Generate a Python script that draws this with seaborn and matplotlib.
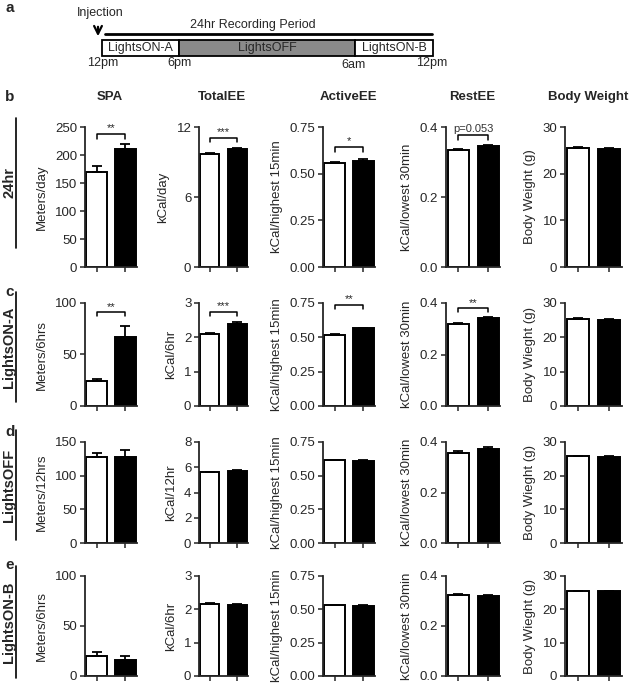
import numpy as np
import pandas as pd
import matplotlib
matplotlib.use("Agg")
import matplotlib.pyplot as plt
import seaborn as sns

# data (rows: 24hr, LightsON-A, LightsOFF, LightsON-B)
periods = ["24hr", "LightsON-A", "LightsOFF", "LightsON-B"]
panel_letters = ["b", "c", "d", "e"]
groups = ["Control", "Treated"]
metrics = ["SPA", "TotalEE", "ActiveEE", "RestEE", "Body Weight"]

spa_ctrl = [170, 24, 127, 20]
spa_ctrl_sem = [10, 2, 7, 4]
spa_trt = [210, 67, 128, 16]
spa_trt_sem = [10, 11, 10, 4]

tee_ctrl = [9.7, 2.1, 5.6, 2.15]
tee_ctrl_sem = [0.1, 0.03, 0.05, 0.04]
tee_trt = [10.1, 2.4, 5.7, 2.12]
tee_trt_sem = [0.1, 0.05, 0.05, 0.03]

aee_ctrl = [0.555, 0.52, 0.615, 0.53]
aee_ctrl_sem = [0.005, 0.006, 0.005, 0.006]
aee_trt = [0.57, 0.565, 0.61, 0.525]
aee_trt_sem = [0.006, 0.006, 0.006, 0.006]

ree_ctrl = [0.333, 0.320, 0.355, 0.323]
ree_ctrl_sem = [0.003, 0.003, 0.010, 0.004]
ree_trt = [0.345, 0.340, 0.372, 0.320]
ree_trt_sem = [0.005, 0.004, 0.010, 0.006]

bw_ctrl = [25.4, 25.3, 25.7, 25.5]
bw_ctrl_sem = [0.3, 0.2, 0.2, 0.15]
bw_trt = [25.3, 25.1, 25.5, 25.5]
bw_trt_sem = [0.2, 0.2, 0.2, 0.15]

spa_ylabels = ["Meters/day", "Meters/6hrs", "Meters/12hrs", "Meters/6hrs"]
tee_ylabels = ["kCal/day", "kCal/6hr", "kCal/12hr", "kCal/6hr"]
aee_ylabels = ["kCal/highest 15min"] * 4
ree_ylabels = ["kCal/lowest 30min"] * 4
bw_ylabels = ["Body Weight (g)", "Body Wieght (g)", "Body Wieght (g)", "Body Wieght (g)"]

spa_ticks = [[0, 50, 100, 150, 200, 250], [0, 50, 100], [0, 50, 100, 150], [0, 50, 100]]
tee_ticks = [[0, 6, 12], [0, 1, 2, 3], [0, 2, 4, 6, 8], [0, 1, 2, 3]]
aee_ticks = [[0, 0.25, 0.5, 0.75]] * 4
ree_ticks = [[0.0, 0.2, 0.4]] * 4
bw_ticks = [[0, 10, 20, 30]] * 4

# significance brackets: (row, metric index, bracket height, label)
brackets = [
    (0, 0, 238, "**"), (0, 1, 11.1, "***"), (0, 2, 0.643, "*"), (0, 3, 0.377, "p=0.053"),
    (1, 0, 91, "**"), (1, 1, 2.74, "***"), (1, 2, 0.735, "**"), (1, 3, 0.38, "**"),
]

# timeline schematic (panel a)
time_labels = ["12pm", "6pm", "6am", "12pm"]
phase_labels = ["LightsON-A", "LightsOFF", "LightsON-B"]

ctrl = [spa_ctrl, tee_ctrl, aee_ctrl, ree_ctrl, bw_ctrl]
ctrl_sem = [spa_ctrl_sem, tee_ctrl_sem, aee_ctrl_sem, ree_ctrl_sem, bw_ctrl_sem]
trt = [spa_trt, tee_trt, aee_trt, ree_trt, bw_trt]
trt_sem = [spa_trt_sem, tee_trt_sem, aee_trt_sem, ree_trt_sem, bw_trt_sem]
ylabels = [spa_ylabels, tee_ylabels, aee_ylabels, ree_ylabels, bw_ylabels]
yticks = [spa_ticks, tee_ticks, aee_ticks, ree_ticks, bw_ticks]

sns.set_style("ticks")
plt.rcParams["font.family"] = ["Liberation Sans", "DejaVu Sans"]

W, H = 629, 684
fig = plt.figure(figsize=(W / 100, H / 100), dpi=100)

# pixel layout of the small axes
col_x = [(85, 137), (199, 248), (323, 375), (446, 500), (565, 622)]
row_y = [(127, 267), (303, 406), (442, 543), (576, 676)]
title_x = [110, 222, 348, 472, 588]


def px_axes(x0, x1, y0, y1):
    return fig.add_axes([x0 / W, 1 - y1 / H, (x1 - x0) / W, (y1 - y0) / H])


axes = {}
for r in range(4):
    for m in range(5):
        ax = px_axes(col_x[m][0], col_x[m][1], row_y[r][0], row_y[r][1])
        axes[(r, m)] = ax
        df = pd.DataFrame({"group": groups, "value": [ctrl[m][r], trt[m][r]]})
        sns.barplot(data=df, x="group", y="value", hue="group", palette=["white", "black"],
                    edgecolor="black", linewidth=1.4, width=0.7, legend=False, ax=ax)
        ax.errorbar([0, 1], df["value"], yerr=[[0, 0], [ctrl_sem[m][r], trt_sem[m][r]]],
                    fmt="none", ecolor="black", elinewidth=1.3, capsize=3.5, capthick=1.3)
        ticks = yticks[m][r]
        ax.set_ylim(0, ticks[-1])
        ax.set_yticks(ticks)
        if m == 2:
            ax.set_yticklabels([f"{t:.2f}" for t in ticks])
        elif m == 3:
            ax.set_yticklabels([f"{t:.1f}" for t in ticks])
        ax.set_xlim(-0.4, 1.4)
        ax.set_xticks([0, 1])
        ax.set_xticklabels([])
        ax.set_xlabel("")
        ax.set_ylabel(ylabels[m][r], fontsize=9.5, labelpad=5)
        ax.tick_params(axis="both", labelsize=9.5, length=3.5, width=1.1, direction="out", pad=2)
        sns.despine(ax=ax)
        for s in ["left", "bottom"]:
            ax.spines[s].set_linewidth(1.3)

# significance brackets
for r, m, yb, lab in brackets:
    ax = axes[(r, m)]
    top = ax.get_ylim()[1]
    drop = top * 0.035
    ax.plot([0, 0, 1, 1], [yb - drop, yb, yb, yb - drop], color="black", lw=1.1, clip_on=False)
    if lab.startswith("p"):
        ax.text(0.5, yb + top * 0.01, lab, ha="center", va="bottom", fontsize=8, color="#333333")
    else:
        ax.text(0.5, yb + top * 0.005, lab, ha="center", va="bottom", fontsize=8)

# column titles
for m, name in enumerate(metrics):
    fig.text(title_x[m] / W, 1 - 97 / H, name, ha="center", va="center",
             fontsize=9.5, fontweight="bold")

# overlay for schematic, panel letters and row labels
ov = fig.add_axes([0, 0, 1, 1], zorder=-1)
ov.set_xlim(0, W)
ov.set_ylim(H, 0)
ov.axis("off")

ov.text(5, 8, "a", fontsize=11, fontweight="bold", va="center")
for letter, yl in zip(panel_letters, [97, 292, 432, 565]):
    ov.text(5, yl, letter, fontsize=11, fontweight="bold", va="center")

# timeline
ov.text(100, 13, "Injection", fontsize=9, ha="center", va="center")
ov.annotate("", xy=(98, 39), xytext=(98, 24),
            arrowprops=dict(arrowstyle="->", lw=1.6, color="black", mutation_scale=14))
ov.plot([105, 432], [33.5, 33.5], color="black", lw=2)
ov.text(253, 25, "24hr Recording Period", fontsize=9, ha="center", va="center")
phase_x = [102, 179, 355, 433]
phase_col = ["white", "#8a8a8a", "white"]
for i, lab in enumerate(phase_labels):
    ov.add_patch(plt.Rectangle((phase_x[i], 40), phase_x[i + 1] - phase_x[i], 16,
                               facecolor=phase_col[i], edgecolor="black", lw=1.3))
    ov.text((phase_x[i] + phase_x[i + 1]) / 2, 48, lab, fontsize=9, ha="center", va="center")
for lab, xt, yt in zip(time_labels, [103, 179, 353, 432], [63, 63, 65, 63]):
    ov.text(xt, yt, lab, fontsize=9, ha="center", va="center")

# row labels with vertical underline
row_label_span = [(118, 248), (292, 402), (430, 540), (566, 678)]
for r, lab in enumerate(periods):
    y0, y1 = row_label_span[r]
    ov.plot([16, 16], [y0, y1], color="black", lw=1.2)
    ov.text(9, (y0 + y1) / 2, lab, rotation=90, fontsize=10.5, fontweight="bold",
            ha="center", va="center")

fig.savefig("out.png", dpi=100)
